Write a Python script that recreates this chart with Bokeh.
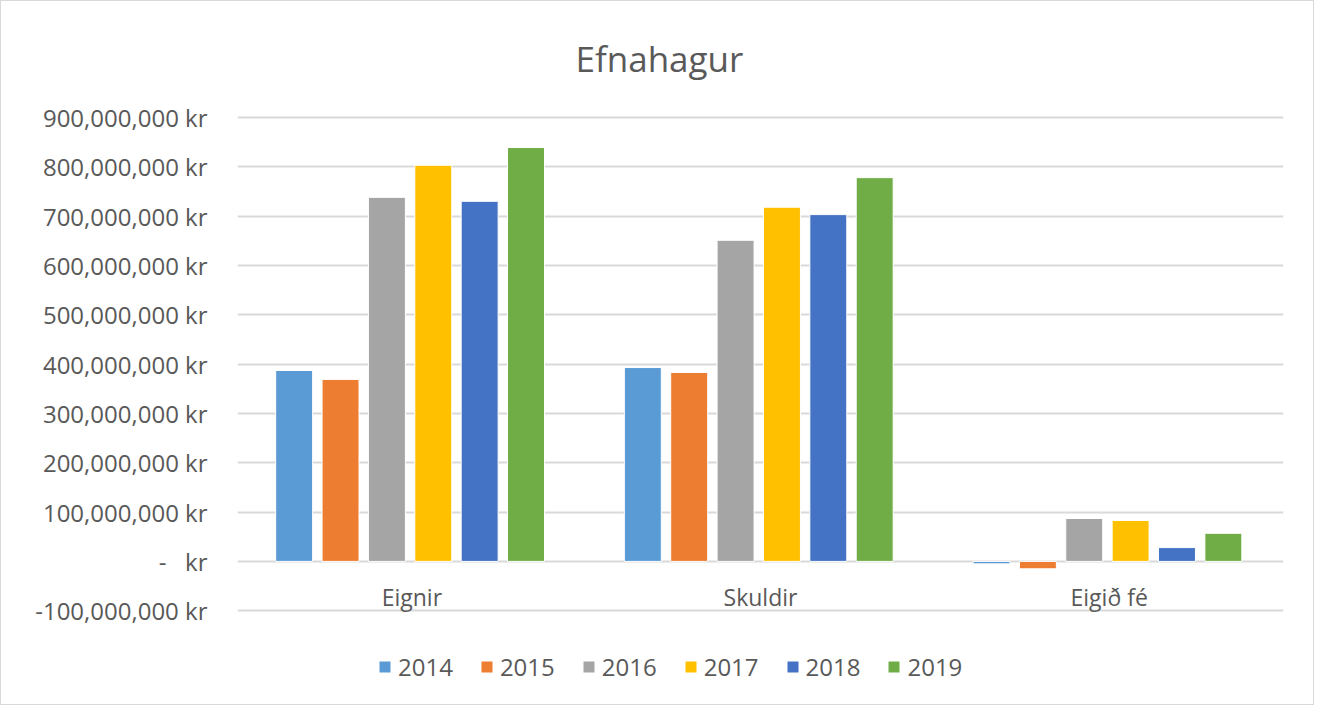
from bokeh.plotting import figure
from bokeh.models import FactorRange, Legend, LegendItem, FixedTicker, Range1d
from bokeh.transform import dodge
from bokeh.core.properties import value
from bokeh.embed import file_html
from bokeh.resources import INLINE

categories = ["Eignir", "Skuldir", "Eigið fé"]
years = ["2014", "2015", "2016", "2017", "2018", "2019"]
v2014 = [387e6, 393e6, -5e6]
v2015 = [369e6, 383e6, -15e6]
v2016 = [738e6, 651e6, 87e6]
v2017 = [803e6, 718e6, 83e6]
v2018 = [730e6, 703e6, 28e6]
v2019 = [839e6, 778e6, 57e6]
series = [v2014, v2015, v2016, v2017, v2018, v2019]
colors = ["#5b9bd5", "#ed7d31", "#a5a5a5", "#ffc000", "#4472c4", "#70ad47"]
y_ticks = [-100e6, 0, 100e6, 200e6, 300e6, 400e6, 500e6, 600e6, 700e6, 800e6, 900e6]
y_tick_labels = ["-100,000,000 kr", "-\u00a0\u00a0\u00a0kr", "100,000,000 kr",
                 "200,000,000 kr", "300,000,000 kr", "400,000,000 kr",
                 "500,000,000 kr", "600,000,000 kr", "700,000,000 kr",
                 "800,000,000 kr", "900,000,000 kr"]

FONT = "Open Sans"
GREY = "#595959"

p = figure(x_range=FactorRange(*categories), y_range=Range1d(-284e6, 908e6),
           frame_width=1046, frame_height=588, output_backend="svg",
           toolbar_location=None, x_axis_location=None,
           min_border_left=236, min_border_right=30, min_border_top=111,
           min_border_bottom=3)
p.styles = {"border": "1px solid #d9d9d9"}

p.title.text = "Efnahagur"
p.title.align = "left"
p.title.offset = 338
p.title.text_font = FONT
p.title.text_font_size = "35px"
p.title.text_font_style = "normal"
p.title.text_color = GREY
p.title.standoff = 63

src = {"cat": categories}
for y, s in zip(years, series):
    src["y" + y] = s

items = []
slot = 0.133
for i, (y, c) in enumerate(zip(years, colors)):
    off = (i - 2.5) * slot - 0.005
    r = p.vbar(x=dodge("cat", off, range=p.x_range), top="y" + y, bottom=0,
               width=0.106, source=src, fill_color=c, line_color="white",
               line_width=1)
    items.append(LegendItem(label=y, renderers=[r]))

# category labels next to the zero line
p.text(x="cat", y=0, text="cat", source=src, text_align="center",
       text_baseline="middle", y_offset=36, text_font=value(FONT),
       text_font_size="23px", text_color=GREY)

p.outline_line_color = None
p.xgrid.grid_line_color = None
p.ygrid.ticker = FixedTicker(ticks=y_ticks)
p.ygrid.grid_line_color = "#d9d9d9"
p.ygrid.grid_line_width = 2
p.yaxis.ticker = FixedTicker(ticks=y_ticks)
p.yaxis.major_label_overrides = {t: l for t, l in zip(y_ticks, y_tick_labels)}
p.yaxis.axis_line_color = None
p.yaxis.major_tick_line_color = None
p.yaxis.minor_tick_line_color = None
p.yaxis.major_label_standoff = 24
p.yaxis.major_label_text_font = FONT
p.yaxis.major_label_text_font_size = "24px"
p.yaxis.major_label_text_color = GREY

legend = Legend(items=items, orientation="horizontal", location=(140, 18),
                label_text_font=FONT, label_text_font_size="24px",
                label_text_color=GREY, glyph_width=15, glyph_height=15,
                spacing=26, label_standoff=6, border_line_color=None,
                background_fill_alpha=0, margin=0, padding=0)
p.add_layout(legend)

open("out.html", "w").write(file_html(p, INLINE))
